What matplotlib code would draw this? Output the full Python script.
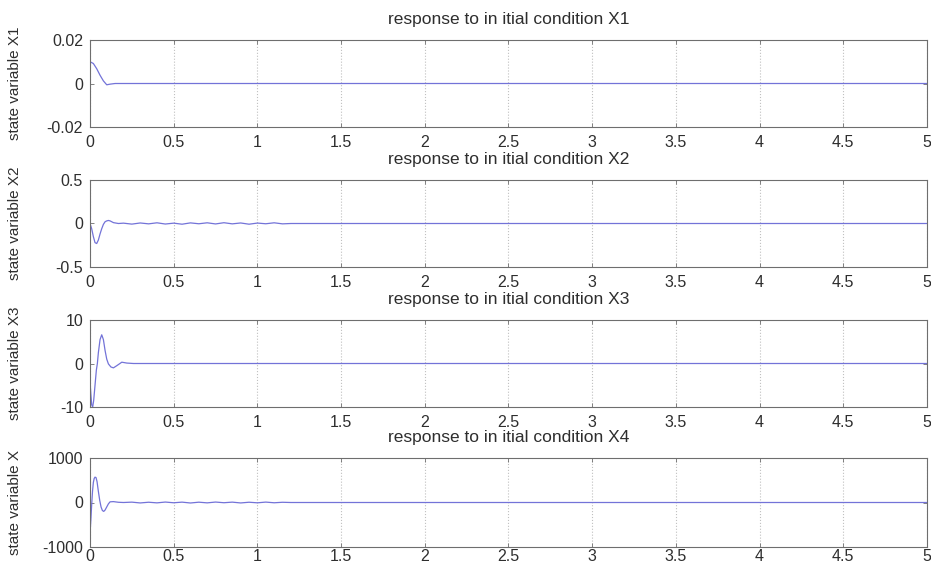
import matplotlib
matplotlib.use("Agg")
import matplotlib.pyplot as plt

# ---- data ----
t_x1 = [0.0, 0.02, 0.04, 0.06, 0.08, 0.10, 0.12, 0.15, 5.0]
x1 = [0.010, 0.0092, 0.0068, 0.0038, 0.0012, -0.0006, -0.0003, 0.0, 0.0]

t_x2 = [0.0, 0.01, 0.02, 0.03, 0.04, 0.05, 0.06, 0.07, 0.08, 0.09, 0.10, 0.11,
        0.12, 0.14, 0.17, 0.20, 0.25, 0.30, 0.35, 0.40, 0.45, 0.50, 0.55, 0.60,
        0.65, 0.70, 0.75, 0.80, 0.85, 0.90, 0.95, 1.00, 1.05, 1.10, 1.15, 1.20,
        5.0]
x2 = [0.0, -0.06, -0.15, -0.22, -0.23, -0.19, -0.12, -0.06, -0.01, 0.02, 0.03,
      0.035, 0.03, 0.01, 0.0, 0.004, -0.007, 0.006, -0.004, 0.008, -0.006, 0.004,
      -0.008, 0.007, -0.003, 0.008, -0.005, 0.009, -0.004, 0.006, -0.008, 0.005,
      -0.003, 0.008, -0.004, 0.0, 0.0]

t_x3 = [0.0, 0.005, 0.01, 0.016, 0.022, 0.03, 0.038, 0.044, 0.05, 0.06, 0.07,
        0.08, 0.09, 0.10, 0.11, 0.125, 0.14, 0.16, 0.19, 0.22, 0.26, 5.0]
x3 = [-4.0, -7.0, -9.5, -10.0, -8.5, -5.0, -1.5, 0.0, 2.5, 5.5, 6.6, 5.5, 3.0,
      1.0, -0.1, -0.8, -1.0, -0.5, 0.3, 0.1, 0.0, 0.0]

t_x4 = [0.0, 0.005, 0.01, 0.015, 0.02, 0.025, 0.03, 0.036, 0.042, 0.05, 0.058,
        0.066, 0.074, 0.082, 0.09, 0.10, 0.11, 0.12, 0.14, 0.17, 0.20, 0.25,
        0.30, 0.35, 0.40, 0.45, 0.50, 0.55, 0.60, 0.65, 0.70, 0.75, 0.80, 0.85,
        0.90, 0.95, 1.00, 1.05, 1.10, 1.15, 1.20, 5.0]
x4 = [-700, -400, -50, 250, 450, 540, 570, 560, 470, 250, 50, -100, -180, -200,
      -170, -100, -30, 15, 20, 5, 0, 8, -10, 6, -8, 10, -6, 8, -11, 7, -8,
      10, -5, 8, -10, 6, -7, 9, -6, 5, 0, 0]

series = [(t_x1, x1), (t_x2, x2), (t_x3, x3), (t_x4, x4)]
titles = ["response to in itial condition X1", "response to in itial condition X2",
          "response to in itial condition X3", "response to in itial condition X4"]
ylabels = ["state variable X1", "state variable X2", "state variable X3", "state variable X"]
ylims = [(-0.02, 0.02), (-0.5, 0.5), (-10, 10), (-1000, 1000)]
yticks = [[-0.02, 0, 0.02], [-0.5, 0, 0.5], [-10, 0, 10], [-1000, 0, 1000]]
yticklabels = [["-0.02", "0", "0.02"], ["-0.5", "0", "0.5"], ["-10", "0", "10"],
               ["-1000", "0", "1000"]]
xticks = [0, 0.5, 1, 1.5, 2, 2.5, 3, 3.5, 4, 4.5, 5]
xticklabels = ["0", "0.5", "1", "1.5", "2", "2.5", "3", "3.5", "4", "4.5", "5"]

plt.rcParams['font.family'] = ['Liberation Sans', 'DejaVu Sans']

fig = plt.figure(figsize=(9.31, 5.64), dpi=100)
W, H = 931.0, 564.0
boxes = [(40, 127), (180, 267), (320, 407), (458, 547)]
left, right = 90.0, 927.0

line_color = '#7373d8'
frame_color = '#6e6e6e'
text_color = '#2e2e2e'

for i, ((tt, yy), (top, bot)) in enumerate(zip(series, boxes)):
    ax = fig.add_axes([left / W, 1 - bot / H, (right - left) / W, (bot - top) / H])
    ax.plot(tt, yy, color=line_color, lw=0.9)
    ax.set_xlim(0, 5)
    ax.set_ylim(*ylims[i])
    ax.set_xticks(xticks)
    ax.set_xticklabels(xticklabels)
    ax.set_yticks(yticks[i])
    ax.set_yticklabels(yticklabels[i])
    ax.grid(True, axis='x', linestyle=':', color='#c0c0c0', lw=0.8)
    ax.tick_params(direction='in', length=3, width=0.6, colors=frame_color,
                   labelcolor=text_color, labelsize=11.5, top=True, right=True)
    ax.tick_params(axis='x', pad=(6 if i < 3 else 1.5))
    ax.tick_params(axis='y', pad=5)
    for s in ax.spines.values():
        s.set_color(frame_color)
        s.set_linewidth(0.8)
    ax.set_title(titles[i], fontsize=12.5, color=text_color, pad=11.5)
    ax.set_ylabel(ylabels[i], fontsize=11, color=text_color)
    ax.yaxis.set_label_coords(-68.0 / (right - left), 0.5)

fig.savefig("out.png", dpi=100)
